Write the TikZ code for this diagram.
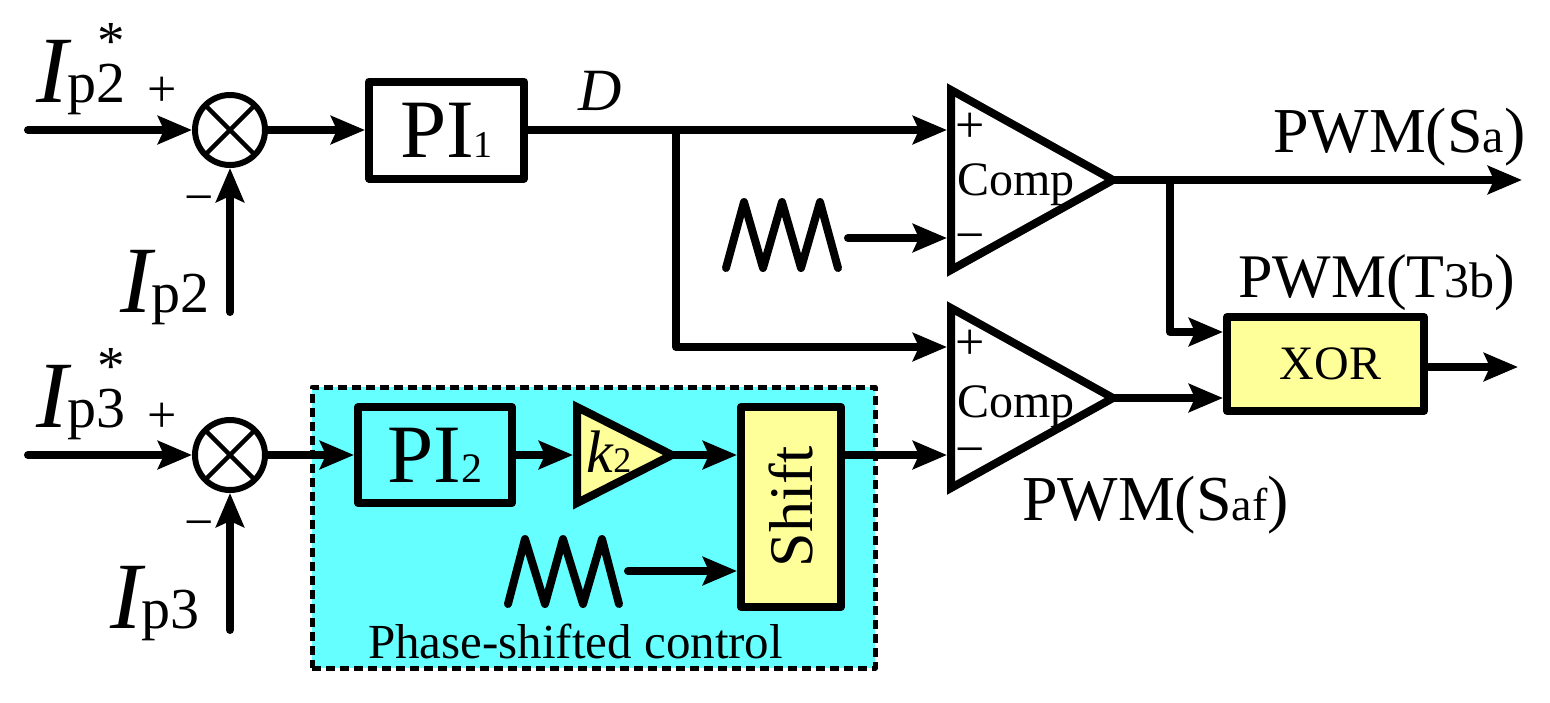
\documentclass[tikz,border=0pt]{standalone}
\usepackage{fontspec}
\setmainfont{Liberation Serif}
\usepackage{graphicx}
\usetikzlibrary{arrows.meta}
\definecolor{cyanbg}{RGB}{102,255,255}
\definecolor{yel}{RGB}{255,255,153}
\newcommand\myfs[1]{\fontsize{#1}{#1}\selectfont}
\newcommand\mystar{\llap{\raisebox{43pt}{\myfs{55}*}\hspace{1pt}}}
\begin{document}
\begin{tikzpicture}[x=1pt,y=-1pt,line width=8pt,line cap=round,line join=round,
  arr/.style={-{Stealth[length=34pt,width=28pt,inset=6pt]}},
  lbl/.style={inner sep=0pt,outer sep=0pt,anchor=base west},
  sign/.style={inner sep=0pt,outer sep=0pt,anchor=base,font=\myfs{52}},
  box/.style={draw,line width=8pt,inner sep=0pt},
  sumj/.style={draw,circle,line width=6pt,minimum size=70pt,inner sep=0pt},
  cross/.style={line width=4.5pt,line cap=butt,shorten <=5pt,shorten >=5pt},
  tri/.style={line width=8pt,line join=miter},
  dashbox/.style={draw,fill=cyanbg,line width=5pt,line cap=butt,dash pattern=on 9pt off 5pt,inner sep=0pt,minimum width=563pt,minimum height=281pt}
]
\useasboundingbox (0,0) rectangle (1550,702);
\fill[white] (0,0) rectangle (1550,702);

% phase-shifted control background
\node[dashbox] (psc) at (593.5,527.5) {};

% ---------- top row ----------
\node[sumj] (s1) at (230,130) {};
\draw[cross] (s1.45) -- (s1.225);
\draw[cross] (s1.135) -- (s1.315);
\node[box,minimum width=155pt,minimum height=97pt] (pi1) at (446.5,130) {{\myfs{83}PI}{\myfs{38}1}};

\node[lbl] (lip2s) at (36,102) {{\myfs{95}\itshape I}{\myfs{58}p2}\mystar};
\node[sign] (pl1) at (162,106) {+};
\node[sign] (mi1) at (199,214) {−};
\node[lbl] (lip2) at (120,312) {{\myfs{95}\itshape I}{\myfs{58}p2}};
\node[lbl] (ld) at (578,110) {\myfs{60}\itshape D};

\coordinate (in1) at (28,130);
\coordinate (fb1) at (230,312);
\coordinate (b1) at (676,130);
\coordinate (c1p) at (947,130);
\coordinate (c1m) at (947,238);
\coordinate (c1o) at (1113,180);
\coordinate (c2p) at (947,347);
\coordinate (c2m) at (947,455);
\coordinate (c2o) at (1113,398);
\coordinate (saw1o) at (848,238);
\coordinate (out1) at (1522,180);
\coordinate (b2) at (1170,180);

% comparator 1
\draw[tri] (951,90) -- (951,270) -- (1113,180) -- cycle;
\node[sign] (cp1) at (970,142) {+};
\node[sign] (cm1) at (970,252) {−};
\node[lbl,font=\myfs{48}] (ct1) at (957,195) {Comp};

% sawtooth 1
\draw[line width=8pt] (726,268) -- (744,202) -- (763,268) -- (782,202) -- (801,268) -- (820,202) -- (838,268);

% comparator 2
\draw[tri] (951,308) -- (951,488) -- (1113,398) -- cycle;
\node[sign] (cp2) at (970,359) {+};
\node[sign] (cm2) at (970,466) {−};
\node[lbl,font=\myfs{48}] (ct2) at (957,417) {Comp};

% XOR
\node[box,fill=yel,minimum width=197pt,minimum height=94pt] (xor) at (1325.5,364) {\hspace{10pt}\myfs{48}XOR};
\coordinate (x1) at (1223,332);
\coordinate (xo) at (1429,367);
\coordinate (out2) at (1518,367);

\node[lbl] (lsa) at (1273,152) {\myfs{64}PWM(S{\myfs{48}a})};
\node[lbl] (lt3b) at (1238,297) {\myfs{62}PWM(T{\myfs{50}3b})};
\node[lbl] (lsaf) at (1022,520) {\myfs{64}PWM(S{\myfs{46}af})};

% ---------- bottom row ----------
\node[sumj] (s2) at (230,455) {};
\draw[cross] (s2.45) -- (s2.225);
\draw[cross] (s2.135) -- (s2.315);
\node[lbl] (lip3s) at (36,427) {{\myfs{95}\itshape I}{\myfs{58}p3}\mystar};
\node[sign] (pl2) at (162,432) {+};
\node[sign] (mi2) at (199,539) {−};
\node[lbl] (lip3) at (110,628) {{\myfs{95}\itshape I}{\myfs{58}p3}};
\coordinate (in2) at (28,455);
\coordinate (fb2) at (230,630);

\node[box,minimum width=154pt,minimum height=96pt] (pi2) at (435,455) {{\myfs{83}PI}{\myfs{42}2}};
\draw[tri,fill=yel] (577,407) -- (577,503) -- (672,455) -- cycle;
\node[inner sep=0pt] (k2) at (609,452) {{\myfs{60}\itshape k}{\myfs{36}2}};
\coordinate (k2in) at (573,455);
\coordinate (k2o) at (672,455);
\node[box,fill=yel,minimum width=100pt,minimum height=200pt] (shift) at (791,507) {\rotatebox{90}{\myfs{62}Shift}};
\draw[line width=8pt] (508,604) -- (525,539) -- (545,604) -- (563,539) -- (583,604) -- (602,539) -- (619,604);
\coordinate (saw2o) at (628,571);
\node[lbl] (lpsc) at (368,658) {\myfs{49}Phase-shifted control};

% ---------- connectors ----------
\draw[arr] (in1) -- (s1.west);
\draw[arr] (fb1) -- (s1.south);
\draw[arr] (s1.east) -- (pi1.west);
\draw[arr] (pi1.east) -- (c1p);
\draw[arr] (b1) |- (c2p);
\draw[arr] (saw1o) -- (c1m);
\draw[arr] (c1o) -- (out1);
\draw[arr] (b2) |- (x1);
\draw[arr] (c2o) -- (xor.west |- c2o);
\draw[arr] (xo) -- (out2);

\draw[arr] (in2) -- (s2.west);
\draw[arr] (fb2) -- (s2.south);
\draw[arr] (s2.east) -- (pi2.west);
\draw[arr] (pi2.east) -- (k2in);
\draw[arr] (k2o) -- (shift.west |- k2o);
\draw[arr] (shift.east |- c2m) -- (c2m);
\draw[arr] (saw2o) -- (shift.west |- saw2o);
\end{tikzpicture}
\end{document}
